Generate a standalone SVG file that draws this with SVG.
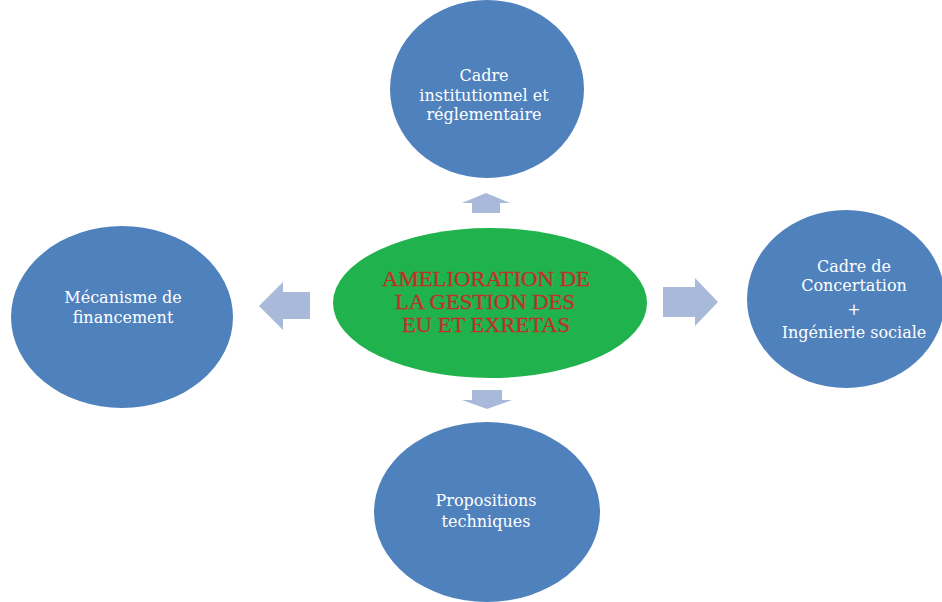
<svg xmlns="http://www.w3.org/2000/svg" width="942" height="602" viewBox="0 0 942 602">
<style>
.node{fill:#4f81bd}
.lbl{font-family:"DejaVu Serif","Liberation Serif",serif;font-size:16px;fill:#ffffff;text-anchor:middle}
.center{fill:#20b24c}
.ctext{font-family:"Liberation Serif","DejaVu Serif",serif;font-size:20px;fill:#c0302a;stroke:#c0302a;stroke-width:0.3;text-anchor:middle}
.arrow{fill:#a9b9da}
</style>
<rect width="942" height="602" fill="#ffffff"/>
<g id="connectors">
<polygon class="arrow" points="472,213 472,203 462,203 486,193 510,203 500,203 500,213"/>
<polygon class="arrow" points="472,390 502,390 502,400 512,400 487,409 462,400 472,400"/>
<polygon class="arrow" points="310,292 283,292 283,282 259,306 283,330 283,319 310,319"/>
<polygon class="arrow" points="663,287 695,287 695,278 718,302 695,326 695,317 663,317"/>
</g>
<g id="top">
<ellipse class="node" cx="487" cy="89" rx="97" ry="89"/>
<text class="lbl" x="484" y="81">Cadre</text>
<text class="lbl" x="484" y="101">institutionnel et</text>
<text class="lbl" x="484" y="120">réglementaire</text>
</g>
<g id="center">
<ellipse class="center" cx="490" cy="303" rx="157" ry="75"/>
<text class="ctext" x="486" y="286" textLength="208" lengthAdjust="spacingAndGlyphs">AMELIORATION DE</text>
<text class="ctext" x="485" y="309" textLength="180" lengthAdjust="spacingAndGlyphs">LA GESTION DES</text>
<text class="ctext" x="486" y="332" textLength="168" lengthAdjust="spacingAndGlyphs">EU ET EXRETAS</text>
</g>
<g id="left">
<ellipse class="node" cx="122" cy="317" rx="111" ry="91"/>
<text class="lbl" x="123" y="303">Mécanisme de</text>
<text class="lbl" x="123" y="323">financement</text>
</g>
<g id="right">
<ellipse class="node" cx="846" cy="299" rx="99" ry="89"/>
<text class="lbl" x="854" y="272">Cadre de</text>
<text class="lbl" x="854" y="291">Concertation</text>
<text class="lbl" x="854" y="315">+</text>
<text class="lbl" x="854" y="338">Ingénierie sociale</text>
</g>
<g id="bottom">
<ellipse class="node" cx="487" cy="512" rx="113" ry="90"/>
<text class="lbl" x="486" y="506">Propositions</text>
<text class="lbl" x="486" y="527">techniques</text>
</g>
</svg>
